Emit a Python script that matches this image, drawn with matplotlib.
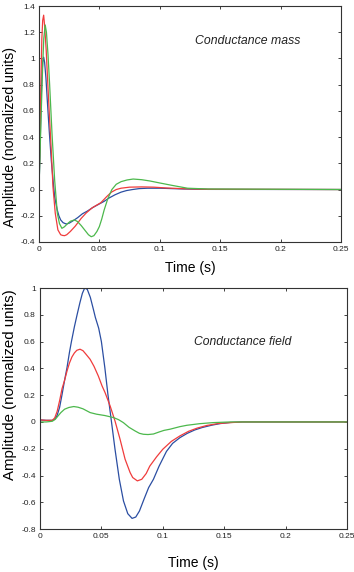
import numpy as np
import matplotlib.pyplot as plt

plt.rcParams['font.family'] = ['Liberation Sans', 'DejaVu Sans']

# ---- top panel: conductance mass ----
t_mass_blue = [0, 0.0008, 0.0016, 0.0024, 0.0031, 0.0039, 0.0047, 0.0058, 0.0069, 0.0085,
               0.0102, 0.0116, 0.013, 0.015, 0.0165, 0.018, 0.020, 0.0226, 0.025, 0.028,
               0.032, 0.036, 0.040, 0.045, 0.050, 0.054, 0.058, 0.063, 0.068, 0.0725,
               0.0775, 0.083, 0.09, 0.1, 0.12, 0.14, 0.25]
v_mass_blue = [0, 0.25, 0.6, 0.85, 0.97, 1.01, 0.97, 0.85, 0.683, 0.45,
               0.225, 0.08, -0.055, -0.15, -0.2, -0.232, -0.253, -0.263, -0.257, -0.24,
               -0.215, -0.185, -0.165, -0.135, -0.11, -0.09, -0.065, -0.04, -0.02, -0.008,
               0.0, 0.007, 0.01, 0.01, 0.004, 0.001, 0.0]

t_mass_red = [0, 0.0008, 0.0016, 0.0024, 0.0031, 0.0039, 0.0047, 0.006, 0.007, 0.008,
              0.0091, 0.0102, 0.0116, 0.0135, 0.0157, 0.018, 0.0195, 0.0212, 0.023, 0.026,
              0.03, 0.035, 0.039, 0.044, 0.0513, 0.056, 0.060, 0.064, 0.068, 0.075,
              0.085, 0.095, 0.105, 0.12, 0.14, 0.25]
v_mass_red = [0, 0.35, 0.8, 1.15, 1.29, 1.33, 1.25, 1.064, 0.87, 0.683,
              0.49, 0.30, 0.022, -0.18, -0.308, -0.345, -0.35, -0.352, -0.345, -0.32,
              -0.28, -0.22, -0.18, -0.14, -0.1, -0.055, -0.02, 0.0, 0.01, 0.018,
              0.02, 0.018, 0.012, 0.006, 0.002, 0.0]

t_mass_green = [0, 0.001, 0.002, 0.003, 0.004, 0.0052, 0.0062, 0.0075, 0.0088, 0.0108,
                0.013, 0.0152, 0.017, 0.019, 0.021, 0.0235, 0.026, 0.0295, 0.032, 0.035,
                0.038, 0.041, 0.0433, 0.0455, 0.048, 0.050, 0.052, 0.054, 0.057, 0.0604,
                0.064, 0.068, 0.073, 0.078, 0.085, 0.092, 0.1, 0.11, 0.123, 0.14, 0.25]
v_mass_green = [0.0, 0.3, 0.62, 0.92, 1.15, 1.255, 1.2, 1.03, 0.81, 0.43,
                0.073, -0.18, -0.26, -0.296, -0.285, -0.262, -0.242, -0.232, -0.245, -0.275,
                -0.31, -0.345, -0.36, -0.352, -0.32, -0.283, -0.225, -0.156, -0.07, 0.0,
                0.04, 0.06, 0.073, 0.08, 0.075, 0.065, 0.05, 0.032, 0.01, 0.004, 0.0]

# ---- bottom panel: conductance field ----
t_field_blue = [0, 0.005, 0.010, 0.012, 0.014, 0.016, 0.018, 0.020, 0.022, 0.024,
                0.0256, 0.028, 0.0302, 0.0325, 0.0345, 0.0364, 0.0385, 0.041, 0.0435, 0.0451,
                0.0478, 0.050, 0.0528, 0.0553, 0.0576, 0.0611, 0.0646, 0.068, 0.0715, 0.075,
                0.078, 0.081, 0.085, 0.0885, 0.0924, 0.097, 0.103, 0.108, 0.114, 0.12,
                0.126, 0.132, 0.14, 0.147, 0.155, 0.165, 0.25]
v_field_blue = [0.015, 0.012, 0.012, 0.02, 0.05, 0.11, 0.207, 0.31, 0.406, 0.52,
                0.60, 0.71, 0.80, 0.89, 0.96, 1.0, 0.99, 0.93, 0.84, 0.78,
                0.70, 0.60, 0.406, 0.207, 0.045, -0.204, -0.428, -0.59, -0.685, -0.72,
                -0.71, -0.665, -0.57, -0.49, -0.428, -0.33, -0.22, -0.16, -0.117, -0.085,
                -0.06, -0.042, -0.024, -0.012, -0.004, 0.0, 0.0]

t_field_red = [0, 0.005, 0.010, 0.012, 0.014, 0.016, 0.018, 0.020, 0.022, 0.024,
               0.026, 0.028, 0.030, 0.0326, 0.035, 0.0375, 0.0408, 0.044, 0.0475, 0.0505,
               0.053, 0.0571, 0.0611, 0.0652, 0.0693, 0.0734, 0.0755, 0.0793, 0.0829, 0.0865,
               0.0894, 0.095, 0.100, 0.107, 0.114, 0.121, 0.128, 0.136, 0.145, 0.155,
               0.165, 0.25]
v_field_red = [0.015, 0.012, 0.012, 0.03, 0.08, 0.16, 0.25, 0.31, 0.38, 0.44,
               0.485, 0.515, 0.535, 0.543, 0.532, 0.505, 0.468, 0.415, 0.343, 0.27,
               0.219, 0.12, 0.007, -0.129, -0.278, -0.378, -0.415, -0.44, -0.428, -0.385,
               -0.33, -0.26, -0.204, -0.145, -0.104, -0.07, -0.046, -0.026, -0.012, -0.005,
               0.0, 0.0]

t_field_green = [0, 0.005, 0.010, 0.0125, 0.0147, 0.017, 0.020, 0.0235, 0.0275, 0.031,
                 0.035, 0.0408, 0.046, 0.0527, 0.0598, 0.064, 0.0679, 0.0725, 0.0774, 0.081,
                 0.0842, 0.088, 0.0924, 0.097, 0.101, 0.106, 0.114, 0.1196, 0.13, 0.141,
                 0.155, 0.25]
v_field_green = [0.0, 0.0, 0.005, 0.02, 0.045, 0.07, 0.095, 0.108, 0.115, 0.11,
                 0.098, 0.07, 0.058, 0.048, 0.033, 0.017, -0.005, -0.04, -0.067, -0.085,
                 -0.092, -0.094, -0.09, -0.075, -0.063, -0.054, -0.035, -0.025, -0.013, -0.005,
                 0.0, 0.0]

x_ticks = [0, 0.05, 0.1, 0.15, 0.2, 0.25]
x_ticklabels = ['0', '0.05', '0.1', '0.15', '0.2', '0.25']
y_ticks_mass = [-0.4, -0.2, 0, 0.2, 0.4, 0.6, 0.8, 1, 1.2, 1.4]
y_ticks_field = [-0.8, -0.6, -0.4, -0.2, 0, 0.2, 0.4, 0.6, 0.8, 1]

c_blue = '#2b4ea2'
c_red = '#f03c3c'
c_green = '#4cb84c'

fig = plt.figure(figsize=(3.54, 5.72), dpi=100)
ax1 = fig.add_axes([0.110, 0.577, 0.853, 0.4125])
ax2 = fig.add_axes([0.113, 0.075, 0.867, 0.4215])


def style(ax, yticks, ylab_y, xlab_y, ylab_size):
    ax.set_xlim(0, 0.25)
    ax.set_xticks(x_ticks)
    ax.set_xticklabels(x_ticklabels)
    ax.set_yticks(yticks)
    ax.set_yticklabels(['%g' % v for v in yticks])
    ax.set_ylim(yticks[0], yticks[-1])
    ax.tick_params(direction='in', length=2.5, width=0.6, labelsize=6,
                   top=True, right=True, pad=3, colors='#222222')
    for s in ax.spines.values():
        s.set_linewidth(0.8)
        s.set_color('#333333')
    ax.set_ylabel('Amplitude (normalized units)', fontsize=ylab_size, va='center')
    ax.yaxis.set_label_coords(-0.097, ylab_y)
    ax.set_xlabel('Time (s)', fontsize=10, va='center')
    ax.xaxis.set_label_coords(0.5, xlab_y)


ax1.plot(t_mass_blue, v_mass_blue, color=c_blue, lw=0.9)
ax1.plot(t_mass_red, v_mass_red, color=c_red, lw=0.9)
ax1.plot(t_mass_green, v_mass_green, color=c_green, lw=0.9)
style(ax1, y_ticks_mass, 0.445, -0.11, 10.2)
ax1.text(0.517, 0.852, 'Conductance mass', transform=ax1.transAxes,
         fontsize=8.8, style='italic', va='center', ha='left', color='#222222')

ax2.plot(t_field_blue, v_field_blue, color=c_blue, lw=0.9)
ax2.plot(t_field_red, v_field_red, color=c_red, lw=0.9)
ax2.plot(t_field_green, v_field_green, color=c_green, lw=0.9)
style(ax2, y_ticks_field, 0.6, -0.141, 10.8)
ax2.text(0.502, 0.776, 'Conductance field', transform=ax2.transAxes,
         fontsize=8.7, style='italic', va='center', ha='left', color='#222222')

fig.savefig('out.png', dpi=100)
